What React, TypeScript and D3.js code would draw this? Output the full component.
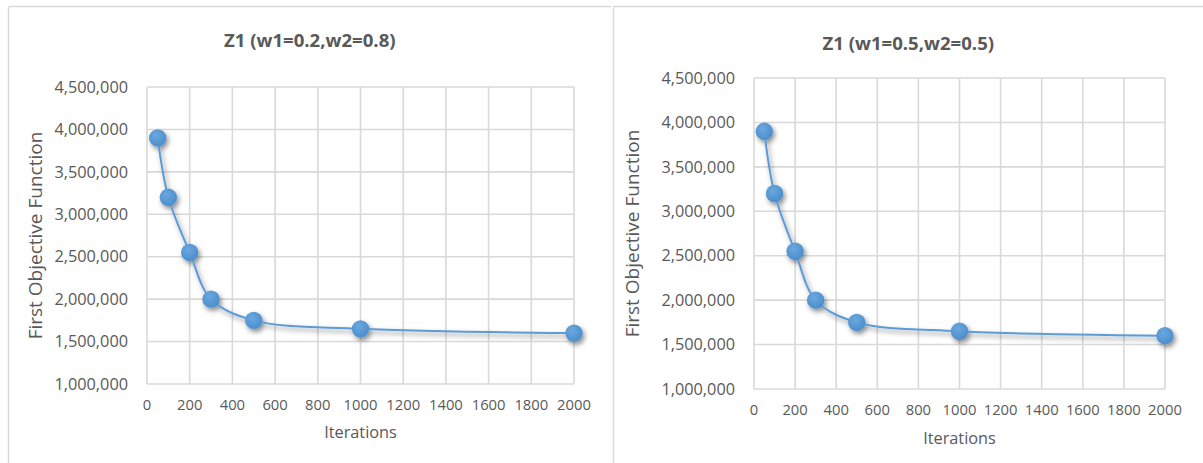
import React from "react";
import * as d3 from "d3";

// Iteration counts used on the x axis
const iterations = [50, 100, 200, 300, 500, 1000, 2000];
// First objective function values for each weighting
const z1Weights0208 = [3900000, 3200000, 2550000, 2000000, 1750000, 1650000, 1600000];
const z1Weights0505 = [3900000, 3200000, 2550000, 2000000, 1750000, 1650000, 1600000];

const panelTitles = ["Z1 (w1=0.2,w2=0.8)", "Z1 (w1=0.5,w2=0.5)"];
const xTickValues = [0, 200, 400, 600, 800, 1000, 1200, 1400, 1600, 1800, 2000];
const yTickValues = [1000000, 1500000, 2000000, 2500000, 3000000, 3500000, 4000000, 4500000];
const xAxisTitle = "Iterations";
const yAxisTitle = "First Objective Function";

const TEXT = "#595959";
const GRID = "#d9d9d9";
const BLUE = "#5b9bd5";
const FONT = "'Open Sans', sans-serif";

type PanelProps = {
  id: string;
  title: string;
  values: number[];
  frame: { x0: number; x1: number; y0: number };
  plot: { left: number; right: number; top: number; bottom: number };
  titleY: number;
  yTitleX: number;
  xTitleY: number;
};

const fmt = d3.format(",");

function Panel({ id, title, values, frame, plot, titleY, yTitleX, xTitleY }: PanelProps) {
  const x = d3.scaleLinear().domain([0, 2000]).range([plot.left, plot.right]);
  const y = d3.scaleLinear().domain([1000000, 4500000]).range([plot.bottom, plot.top]);
  const pts: [number, number][] = iterations.map((it, i) => [x(it), y(values[i])]);
  const path = d3.line().curve(d3.curveCatmullRom.alpha(0.5))(pts) || "";
  const cx = (frame.x0 + frame.x1) / 2;
  const plotMidX = (plot.left + plot.right) / 2;
  const plotMidY = (plot.top + plot.bottom) / 2;

  return (
    <g>
      <defs>
        <filter id={`shadow-${id}`} x="-20%" y="-20%" width="140%" height="160%">
          <feDropShadow dx="2" dy="3" stdDeviation="2.5" floodColor="#000" floodOpacity="0.45" />
        </filter>
        <radialGradient id={`marker-${id}`} cx="40%" cy="35%" r="70%">
          <stop offset="0%" stopColor="#6aa8e0" />
          <stop offset="100%" stopColor="#4a8bc9" />
        </radialGradient>
      </defs>
      {/* chart frame: top and left edges */}
      <line x1={frame.x0} x2={frame.x1} y1={frame.y0} y2={frame.y0} stroke={GRID} strokeWidth={1.5} />
      <line x1={frame.x0} x2={frame.x0} y1={frame.y0} y2={463} stroke={GRID} strokeWidth={1.5} />

      {/* gridlines */}
      {yTickValues.map((v) => (
        <line key={`gy${v}`} x1={plot.left} x2={plot.right} y1={y(v)} y2={y(v)} stroke={GRID} strokeWidth={1.6} />
      ))}
      {xTickValues.map((v) => (
        <line key={`gx${v}`} x1={x(v)} x2={x(v)} y1={plot.top} y2={plot.bottom} stroke={GRID} strokeWidth={1.6} />
      ))}

      {/* tick labels */}
      {yTickValues.map((v) => (
        <text key={`ty${v}`} x={plot.left - 19} y={y(v)} dy="0.35em" textAnchor="end" fontSize={16.3} fill={TEXT} fontFamily={FONT}>
          {fmt(v)}
        </text>
      ))}
      {xTickValues.map((v) => (
        <text key={`tx${v}`} x={x(v)} y={plot.bottom + 21} dy="0.35em" textAnchor="middle" fontSize={14.8} fill={TEXT} fontFamily={FONT}>
          {v}
        </text>
      ))}

      {/* titles */}
      <text x={cx} y={titleY} dy="0.35em" textAnchor="middle" fontSize={18.6} fontWeight="bold" fill={TEXT} fontFamily={FONT}>
        {title}
      </text>
      <text x={plotMidX} y={xTitleY} dy="0.35em" textAnchor="middle" fontSize={16.3} fill={TEXT} fontFamily={FONT}>
        {xAxisTitle}
      </text>
      <text
        transform={`translate(${yTitleX},${plotMidY}) rotate(-90)`}
        dy="0.35em"
        textAnchor="middle"
        fontSize={19}
        fill={TEXT}
        fontFamily={FONT}
      >
        {yAxisTitle}
      </text>

      {/* series */}
      <g filter={`url(#shadow-${id})`}>
        <path d={path} fill="none" stroke={BLUE} strokeWidth={2} />
        {pts.map(([px, py], i) => (
          <circle key={i} cx={px} cy={py} r={8.7} fill={`url(#marker-${id})`} />
        ))}
      </g>
    </g>
  );
}

export default function App() {
  return (
    <div style={{ position: "absolute", left: 0, top: 0 }}>
      <svg width={1203} height={463} style={{ display: "block", background: "#fff" }}>
        <Panel
          id="a"
          title={panelTitles[0]}
          values={z1Weights0208}
          frame={{ x0: 8.5, x1: 611, y0: 6.5 }}
          plot={{ left: 147, right: 574, top: 87, bottom: 384 }}
          titleY={40}
          yTitleX={35}
          xTitleY={432}
        />
        <Panel
          id="b"
          title={panelTitles[1]}
          values={z1Weights0505}
          frame={{ x0: 613.5, x1: 1203, y0: 6.5 }}
          plot={{ left: 754, right: 1165, top: 78, bottom: 389 }}
          titleY={43}
          yTitleX={632}
          xTitleY={438}
        />
      </svg>
    </div>
  );
}
